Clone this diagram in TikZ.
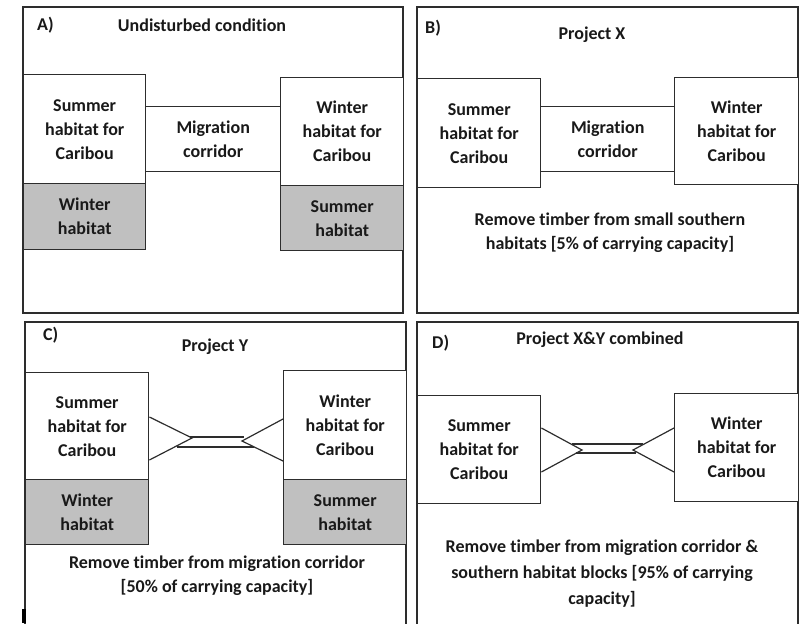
\documentclass[tikz,border=0pt]{standalone}
\usepackage{fontspec}
\setmainfont{Carlito}[Ligatures=CommonOff]
\usetikzlibrary{calc}
\definecolor{ln}{RGB}{45,45,45}
\definecolor{txt}{RGB}{25,25,25}
\definecolor{shade}{RGB}{192,192,192}
\begin{document}
\begin{tikzpicture}[x=1pt,y=-1pt,
  every node/.style={font=\bfseries\fontsize{18}{24}\selectfont, text=txt},
  panel/.style={draw=ln, line width=1.4pt},
  hbox/.style={draw=ln, line width=1.4pt, fill=white, anchor=north west, inner sep=0pt, align=center, minimum width=#1},
  gbox/.style={draw=ln, line width=1.4pt, fill=shade, anchor=north west, inner sep=0pt, align=center, minimum width=#1},
  conn/.style={draw=ln, line width=1.2pt},
  lbl/.style={anchor=west, inner sep=0pt},
  ttl/.style={inner sep=0pt, align=center}]
\useasboundingbox (0,0) rectangle (802,623);
\begin{scope}
\clip (0,0) rectangle (802,623);
% ---------- Panel A ----------
\draw[panel] (23,7) rectangle (403,313);
\node[lbl] (Alab) at (37,25) {A)};
\node[ttl] (Atit) at (202,25) {Undisturbed condition};
\node[hbox=122pt, minimum height=109pt] (Asum) at (23,74) {Summer\\habitat for\\Caribou};
\node[gbox=122pt, minimum height=66pt] (Awin) at (23,183) {Winter\\habitat};
\node[hbox=135pt, minimum height=65pt] (Acor) at (145,106) {Migration\\corridor};
\node[hbox=123pt, minimum height=108pt] (Aw) at (280,77) {Winter\\habitat for\\Caribou};
\node[gbox=123pt, minimum height=65pt] (Asm) at (280,185) {Summer\\habitat};
% ---------- Panel B ----------
\draw[panel] (417,7) rectangle (798,313);
\node[lbl] (Blab) at (425,28) {B)};
\node[ttl] (Btit) at (592,35) {Project X};
\node[hbox=123pt, minimum height=109pt] (Bsum) at (417,78) {Summer\\habitat for\\Caribou};
\node[hbox=134pt, minimum height=65pt] (Bcor) at (540,106) {Migration\\corridor};
\node[hbox=124pt, minimum height=107pt] (Bw) at (674,77) {Winter\\habitat for\\Caribou};
\node[ttl] (Btxt) at (610,233) {Remove timber from small southern\\habitats [5\% of carrying capacity]};
% ---------- Panel C ----------
\draw[panel] (25,322) rectangle (406,640);
\node[lbl] (Clab) at (43,335) {C)};
\node[ttl] (Ctit) at (215,347) {Project Y};
\node[hbox=123pt, minimum height=107pt] (Csum) at (25,372) {Summer\\habitat for\\Caribou};
\node[gbox=123pt, minimum height=65pt] (Cwin) at (25,479) {Winter\\habitat};
\node[hbox=123pt, minimum height=109pt] (Cw) at (283,370) {Winter\\habitat for\\Caribou};
\node[gbox=123pt, minimum height=65pt] (Csm) at (283,479) {Summer\\habitat};
\coordinate (CtipL) at (192,438);
\coordinate (CtipR) at (242,441);
\coordinate (Ct1) at (190,437); \coordinate (Ct2) at (244,437);
\coordinate (Cb1) at (177,447); \coordinate (Cb2) at (254,447);
\draw[conn] ([yshift=-45pt]Csum.north east) -- (CtipL) -- ([yshift=-88pt]Csum.north east);
\draw[conn] ([yshift=-49pt]Cw.north west) -- (CtipR) -- ([yshift=-91pt]Cw.north west);
\draw[conn] (Ct1) -- (Ct2);
\draw[conn] (Cb1) -- (Cb2);
\node[ttl] (Ctxt) at (217,576) {Remove timber from migration corridor\\{}[50\% of carrying capacity]};
\fill[black] (22,609) rectangle (25.5,623);
% ---------- Panel D ----------
\draw[panel] (417,322) rectangle (798,640);
\node[lbl] (Dlab) at (432,343) {D)};
\node[ttl] (Dtit) at (600,340) {Project X\&Y combined};
\node[hbox=123pt, minimum height=108pt] (Dsum) at (417,395) {Summer\\habitat for\\Caribou};
\node[hbox=124pt, minimum height=108pt] (Dw) at (674,393) {Winter\\habitat for\\Caribou};
\coordinate (DtipL) at (582,450);
\coordinate (DtipR) at (633,450);
\coordinate (Dt1) at (572,444); \coordinate (Dt2) at (643,444);
\coordinate (Db1) at (576,453); \coordinate (Db2) at (636,453);
\draw[conn] ([yshift=-33pt]Dsum.north east) -- (DtipL) -- ([yshift=-77pt]Dsum.north east);
\draw[conn] ([yshift=-35pt]Dw.north west) -- (DtipR) -- ([yshift=-79pt]Dw.north west);
\draw[conn] (Dt1) -- (Dt2);
\draw[conn] (Db1) -- (Db2);
\node[ttl, font=\bfseries\fontsize{18}{26}\selectfont] (Dtxt) at (602,574) {Remove timber from migration corridor \&\\southern habitat blocks [95\% of carrying\\capacity]};
\end{scope}
\end{tikzpicture}
\end{document}
